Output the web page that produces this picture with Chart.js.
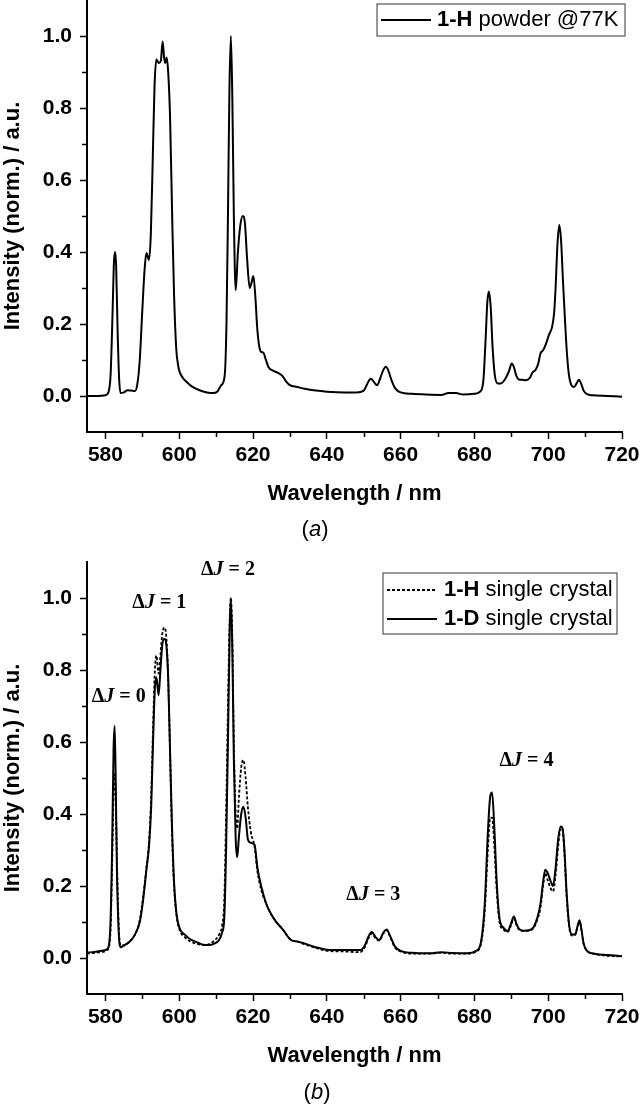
<!DOCTYPE html>
<html>
<head>
<meta charset="utf-8">
<script src="https://cdn.jsdelivr.net/npm/chart.js@4.4.1/dist/chart.umd.min.js"></script>
<style>
body { margin: 0; background: #fff; }
#wrap { position: relative; width: 640px; height: 1106px; }
.box { position: absolute; left: 0; width: 640px; }
.cap { position: absolute; width: 640px; text-align: center; font: 22px "Liberation Sans", Arial, sans-serif; line-height: 22px; color: #000; }
</style>
</head>
<body>
<div id="wrap">
  <div class="box" style="top:0;height:545px"><canvas id="chartA"></canvas></div>
  <div class="cap" style="top:518px;left:-5px">(<i>a</i>)</div>
  <div class="box" style="top:545px;height:561px"><canvas id="chartB"></canvas></div>
  <div class="cap" style="top:1081px;left:-3px">(<i>b</i>)</div>
</div>
<script>
// (a) 1-H powder @77K
const powderWavelength = [
  575, 578, 580, 580.8, 581.4, 581.9, 582.3, 582.6, 582.9, 583.3, 583.7, 584.1,
  585, 586, 587, 588, 588.6, 589.3, 590, 590.6, 591.1, 591.8, 592.3, 592.8,
  593.3, 593.8, 594.4, 595.0, 595.5, 595.9, 596.2, 596.6, 597.0, 597.5, 598.1, 598.6,
  599.2, 599.7, 600.1, 601, 602, 603.5, 605.5, 607.5, 609.1, 610.3, 611.4, 612.3,
  612.8, 613.2, 613.6, 614.0, 614.4, 614.8, 615.3, 615.9, 616.5, 617.2, 617.8, 618.4,
  619.1, 619.6, 620.1, 620.6, 621.2, 622.0, 622.8, 623.5, 624.2, 625.5, 627, 628,
  629, 630, 632, 634, 637, 640, 645, 648, 650, 651, 651.9, 652.7,
  653.6, 654.5, 655.3, 656.0, 656.7, 657.5, 658.5, 660, 663, 667, 671, 673,
  675, 677, 680, 681.5, 682.4, 683.0, 683.5, 683.9, 684.4, 684.9, 685.5, 686.3,
  687.2, 688.2, 689.4, 690.1, 690.7, 691.4, 692, 693, 694, 695, 695.8, 696.6,
  697.3, 697.9, 698.6, 699.4, 700.2, 701.0, 701.6, 702.0, 702.5, 703.0, 703.5, 704.0,
  704.5, 705.0, 705.6, 706.3, 707.0, 707.7, 708.3, 708.9, 709.6, 710.5, 712, 716, 720
];
const powderIntensity = [
  0.000, 0.000, 0.002, 0.010, 0.060, 0.220, 0.370, 0.400, 0.360, 0.180, 0.050, 0.008,
  0.010, 0.016, 0.015, 0.014, 0.030, 0.100, 0.240, 0.350, 0.397, 0.378, 0.450, 0.650,
  0.860, 0.935, 0.925, 0.930, 0.985, 0.940, 0.925, 0.940, 0.900, 0.780, 0.490, 0.280,
  0.130, 0.085, 0.067, 0.050, 0.039, 0.026, 0.016, 0.010, 0.008, 0.012, 0.030, 0.055,
  0.200, 0.500, 0.850, 1.000, 0.820, 0.500, 0.294, 0.400, 0.470, 0.500, 0.480, 0.380,
  0.300, 0.315, 0.333, 0.280, 0.180, 0.125, 0.120, 0.100, 0.080, 0.070, 0.063, 0.055,
  0.040, 0.030, 0.025, 0.020, 0.015, 0.012, 0.010, 0.010, 0.015, 0.035, 0.048, 0.040,
  0.030, 0.050, 0.072, 0.081, 0.070, 0.045, 0.022, 0.010, 0.006, 0.004, 0.003, 0.008,
  0.008, 0.004, 0.006, 0.012, 0.040, 0.150, 0.260, 0.290, 0.250, 0.140, 0.060, 0.035,
  0.035, 0.045, 0.070, 0.090, 0.080, 0.055, 0.046, 0.045, 0.044, 0.050, 0.066, 0.073,
  0.090, 0.118, 0.127, 0.145, 0.170, 0.190, 0.230, 0.300, 0.420, 0.475, 0.430, 0.320,
  0.220, 0.130, 0.060, 0.030, 0.025, 0.035, 0.045, 0.035, 0.015, 0.005, 0.002, 0.000, -0.002
];

// (b) single crystals
const crystalWavelength = [
  575, 577, 579, 580.5, 581.3, 581.8, 582.2, 582.5, 582.8, 583.1, 583.6, 584.1,
  585, 586.5, 588, 589.3, 590.2, 591.1, 591.8, 592.4, 592.9, 593.4, 593.8, 594.4,
  594.9, 595.4, 596.0, 596.5, 597.0, 597.5, 598.0, 598.6, 599.3, 600.2, 601.5, 603,
  604.6, 606.5, 608, 609.5, 610.8, 611.6, 612.2, 612.7, 613.2, 613.7, 614.0, 614.4,
  614.8, 615.3, 615.7, 616.2, 616.8, 617.4, 618.0, 618.6, 619.4, 620.4, 621.2, 622.2,
  623.6, 625, 626.3, 628, 630.3, 632, 634, 637, 640, 645, 649, 650.3,
  651.3, 652.2, 653.2, 654.2, 655.3, 656.2, 657.2, 658.4, 660, 664, 668, 671,
  674, 678, 680.5, 681.8, 682.8, 683.7, 684.3, 684.8, 685.4, 686.1, 686.8, 687.8,
  689.0, 689.9, 690.7, 691.4, 692.2, 693.5, 694.8, 696, 697, 697.9, 698.6, 699.2,
  699.9, 700.6, 701.3, 702.0, 702.7, 703.4, 703.9, 704.4, 705, 705.7, 706.5, 707.3,
  708.0, 708.5, 709.0, 709.6, 710.5, 712.5, 716, 720
];
const crystalH = [
  0.012, 0.014, 0.017, 0.022, 0.060, 0.250, 0.460, 0.510, 0.430, 0.280, 0.090, 0.035,
  0.035, 0.045, 0.065, 0.105, 0.170, 0.250, 0.320, 0.450, 0.640, 0.800, 0.840, 0.790,
  0.840, 0.900, 0.918, 0.890, 0.780, 0.570, 0.360, 0.200, 0.115, 0.075, 0.058, 0.046,
  0.040, 0.036, 0.038, 0.048, 0.065, 0.090, 0.160, 0.400, 0.700, 0.950, 1.000, 0.880,
  0.600, 0.400, 0.360, 0.450, 0.530, 0.550, 0.500, 0.420, 0.350, 0.310, 0.240, 0.190,
  0.150, 0.120, 0.100, 0.080, 0.050, 0.046, 0.038, 0.028, 0.020, 0.018, 0.016, 0.030,
  0.055, 0.068, 0.055, 0.048, 0.068, 0.077, 0.058, 0.030, 0.018, 0.012, 0.012, 0.015,
  0.012, 0.012, 0.018, 0.040, 0.130, 0.310, 0.390, 0.390, 0.310, 0.180, 0.100, 0.080,
  0.072, 0.090, 0.110, 0.092, 0.078, 0.075, 0.076, 0.083, 0.105, 0.140, 0.200, 0.235,
  0.215, 0.195, 0.185, 0.230, 0.310, 0.360, 0.355, 0.290, 0.170, 0.085, 0.062, 0.065,
  0.090, 0.100, 0.078, 0.040, 0.020, 0.012, 0.006, 0.004
];
const crystalD = [
  0.015, 0.017, 0.020, 0.025, 0.080, 0.300, 0.580, 0.645, 0.480, 0.250, 0.070, 0.030,
  0.035, 0.045, 0.065, 0.100, 0.160, 0.245, 0.310, 0.420, 0.600, 0.750, 0.780, 0.730,
  0.800, 0.870, 0.887, 0.870, 0.780, 0.580, 0.380, 0.210, 0.120, 0.080, 0.065, 0.052,
  0.045, 0.037, 0.036, 0.040, 0.050, 0.070, 0.110, 0.300, 0.600, 0.920, 1.000, 0.850,
  0.550, 0.330, 0.280, 0.340, 0.400, 0.420, 0.390, 0.330, 0.320, 0.315, 0.250, 0.200,
  0.150, 0.120, 0.100, 0.080, 0.050, 0.046, 0.040, 0.030, 0.023, 0.022, 0.022, 0.035,
  0.060, 0.072, 0.058, 0.050, 0.070, 0.079, 0.060, 0.033, 0.020, 0.014, 0.013, 0.016,
  0.014, 0.013, 0.020, 0.045, 0.150, 0.360, 0.450, 0.460, 0.360, 0.200, 0.110, 0.085,
  0.075, 0.095, 0.115, 0.095, 0.080, 0.076, 0.077, 0.085, 0.110, 0.150, 0.210, 0.245,
  0.235, 0.215, 0.200, 0.250, 0.330, 0.365, 0.360, 0.300, 0.180, 0.090, 0.065, 0.065,
  0.090, 0.105, 0.080, 0.040, 0.020, 0.012, 0.008, 0.005
];

const xMajorTicks = [580, 600, 620, 640, 660, 680, 700, 720];
const xMinorTicks = [590, 610, 630, 650, 670, 690, 710];
const yMajorTicks = [0, 0.2, 0.4, 0.6, 0.8, 1.0];
const yMinorTicks = [0.1, 0.3, 0.5, 0.7, 0.9];

// ΔJ labels in panel (b), anchored at [wavelength, intensity]
const transitionNames = ["0", "1", "2", "3", "4"];
const transitionAnchors = [[583.6, 0.726], [594.6, 0.987], [613.2, 1.078], [652.6, 0.176], [694.1, 0.548]];

const SANS = '"Liberation Sans", Arial, sans-serif';
const SERIF = '"Liberation Serif", "Times New Roman", serif';

function toPoints(xs, ys) {
    return xs.map((x, i) => ({ x: x, y: ys[i] }));
}

function setTicks(major, minor) {
    return scale => {
        scale.ticks = major.map(v => ({ value: v }))
            .concat(minor.map(v => ({ value: v, minor: true })))
            .sort((a, b) => a.value - b.value);
    };
}

function fixSize(prop, size) {
    return scale => {
        scale[prop] = size;
        scale.paddingLeft = 0;
        scale.paddingRight = 0;
        scale.paddingTop = 0;
        scale.paddingBottom = 0;
    };
}

const minorTicks = {
    id: "minorTicks",
    afterDraw(chart) {
        const ctx = chart.ctx;
        const xs = chart.scales.x;
        const ys = chart.scales.y;
        ctx.save();
        ctx.strokeStyle = "#000";
        ctx.lineWidth = 1.5;
        ctx.beginPath();
        xs.ticks.forEach(t => {
            if (!t.minor) return;
            const px = Math.round(xs.getPixelForValue(t.value)) + 0.5;
            ctx.moveTo(px, xs.top);
            ctx.lineTo(px, xs.top + 5);
        });
        ys.ticks.forEach(t => {
            if (!t.minor) return;
            const py = Math.round(ys.getPixelForValue(t.value)) + 0.5;
            ctx.moveTo(ys.right, py);
            ctx.lineTo(ys.right - 5, py);
        });
        ctx.stroke();
        ctx.restore();
    }
};

const boxLegend = {
    id: "boxLegend",
    afterDraw(chart, args, opts) {
        const ctx = chart.ctx;
        ctx.save();
        ctx.strokeStyle = "#555";
        ctx.lineWidth = 1.2;
        ctx.strokeRect(opts.left, opts.top, opts.width, opts.height);
        chart.data.datasets.forEach((ds, i) => {
            const cy = opts.top + opts.rowStart + i * opts.rowGap;
            ctx.beginPath();
            ctx.setLineDash(ds.borderDash || []);
            ctx.lineWidth = ds.borderWidth;
            ctx.strokeStyle = ds.borderColor;
            ctx.moveTo(opts.left + 4, cy);
            ctx.lineTo(opts.left + 4 + opts.sample, cy);
            ctx.stroke();
            ctx.setLineDash([]);
            const bold = ds.label.split(" ")[0];
            const rest = ds.label.slice(bold.length);
            ctx.fillStyle = "#000";
            ctx.textBaseline = "middle";
            let tx = opts.left + opts.textOffset;
            ctx.font = "bold 22px " + SANS;
            ctx.fillText(bold, tx, cy);
            tx += ctx.measureText(bold).width;
            ctx.font = "22px " + SANS;
            ctx.fillText(rest, tx, cy);
        });
        ctx.restore();
    }
};

const transitionNotes = {
    id: "transitionNotes",
    afterDraw(chart) {
        const ctx = chart.ctx;
        const xs = chart.scales.x;
        const ys = chart.scales.y;
        ctx.save();
        ctx.fillStyle = "#000";
        ctx.textBaseline = "middle";
        transitionNames.forEach((n, i) => {
            const px = xs.getPixelForValue(transitionAnchors[i][0]);
            const py = ys.getPixelForValue(transitionAnchors[i][1]);
            const parts = [["\u0394", "bold"], ["J", "italic bold"], [" = " + n, "bold"]];
            let w = 0;
            parts.forEach(p => {
                ctx.font = p[1] + " 20px " + SERIF;
                w += ctx.measureText(p[0]).width;
            });
            let tx = px - w / 2;
            parts.forEach(p => {
                ctx.font = p[1] + " 20px " + SERIF;
                ctx.fillText(p[0], tx, py);
                tx += ctx.measureText(p[0]).width;
            });
        });
        ctx.restore();
    }
};

function buildOptions(padding, xHeight, legendBox) {
    const tickFont = { family: SANS, size: 21, weight: "bold" };
    const titleFont = { family: SANS, size: 22, weight: "bold" };
    const tickColor = c => (c.tick && c.tick.minor ? "rgba(0,0,0,0)" : "#000");
    return {
        responsive: true,
        maintainAspectRatio: false,
        animation: false,
        layout: { padding: padding },
        elements: {
            point: { radius: 0 },
            line: { cubicInterpolationMode: "monotone" }
        },
        scales: {
            x: {
                type: "linear",
                min: 575,
                max: 720,
                afterBuildTicks: setTicks(xMajorTicks, xMinorTicks),
                afterFit: fixSize("height", xHeight),
                border: { display: true, color: "#000", width: 2 },
                grid: { drawOnChartArea: false, tickLength: 7, tickWidth: 1.5, tickColor: tickColor },
                ticks: {
                    autoSkip: false,
                    maxRotation: 0,
                    padding: 4,
                    color: "#000",
                    font: tickFont,
                    callback: (v, i, t) => (t[i].minor ? "" : String(v))
                },
                title: { display: true, text: "Wavelength / nm", color: "#000", font: titleFont, padding: 0 }
            },
            y: {
                type: "linear",
                min: -0.1,
                max: 1.1,
                afterBuildTicks: setTicks(yMajorTicks, yMinorTicks),
                afterFit: fixSize("width", 87),
                border: { display: true, color: "#000", width: 2 },
                grid: { drawOnChartArea: false, tickLength: 7, tickWidth: 1.5, tickColor: tickColor },
                ticks: {
                    autoSkip: false,
                    padding: 8,
                    color: "#000",
                    font: tickFont,
                    callback: (v, i, t) => (t[i].minor ? "" : Number(v).toFixed(1))
                },
                title: { display: true, text: "Intensity (norm.) / a.u.", color: "#000", font: titleFont, padding: 0 }
            }
        },
        plugins: {
            legend: { display: false },
            tooltip: { enabled: false },
            boxLegend: legendBox
        }
    };
}

new Chart(document.getElementById("chartA"), {
    type: "line",
    data: {
        datasets: [{
            label: "1-H powder @77K",
            data: toPoints(powderWavelength, powderIntensity),
            borderColor: "#000",
            borderWidth: 2,
            fill: false
        }]
    },
    options: buildOptions({ top: 0, right: 18, bottom: 38, left: 0 }, 75,
        { left: 377, top: 4, width: 248, height: 32, rowStart: 16, rowGap: 0, sample: 50, textOffset: 60 }),
    plugins: [minorTicks, boxLegend]
});

new Chart(document.getElementById("chartB"), {
    type: "line",
    data: {
        datasets: [{
            label: "1-H single crystal",
            data: toPoints(crystalWavelength, crystalH),
            borderColor: "#000",
            borderWidth: 1.8,
            borderDash: [3, 2],
            fill: false
        }, {
            label: "1-D single crystal",
            data: toPoints(crystalWavelength, crystalD),
            borderColor: "#000",
            borderWidth: 2,
            fill: false
        }]
    },
    options: buildOptions({ top: 17, right: 18, bottom: 37, left: 0 }, 75,
        { left: 383, top: 28, width: 234, height: 61, rowStart: 17, rowGap: 29, sample: 50, textOffset: 61 }),
    plugins: [minorTicks, boxLegend, transitionNotes]
});
</script>
</body>
</html>
